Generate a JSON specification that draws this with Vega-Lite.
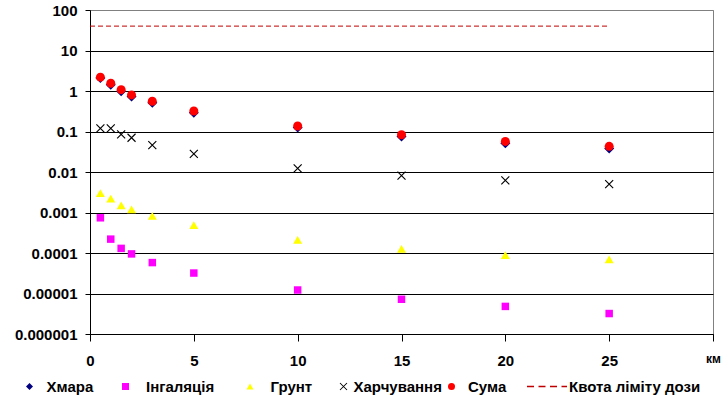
{
  "$schema": "https://vega.github.io/schema/vega-lite/v6.json",
  "width": 623,
  "height": 324,
  "autosize": {"type": "none"},
  "padding": {"left": 90, "top": 10, "right": 15, "bottom": 61},
  "background": "white",
  "config": {
    "view": {"stroke": "#808080", "strokeWidth": 1},
    "font": "Liberation Sans",
    "legend": {
      "orient": "none",
      "title": null,
      "padding": 0,
      "symbolSize": 49,
      "symbolStrokeWidth": 1.5,
      "labelFontSize": 15,
      "labelFontWeight": "bold",
      "labelColor": "#000000",
      "labelLimit": 300,
      "legendY": 369
    }
  },
  "datasets": {
    "points": [
      {"km": 0.5, "series": "Хмара", "value": 2.08},
      {"km": 1, "series": "Хмара", "value": 1.43},
      {"km": 1.5, "series": "Хмара", "value": 0.99},
      {"km": 2, "series": "Хмара", "value": 0.73},
      {"km": 3, "series": "Хмара", "value": 0.51},
      {"km": 5, "series": "Хмара", "value": 0.29},
      {"km": 10, "series": "Хмара", "value": 0.125},
      {"km": 15, "series": "Хмара", "value": 0.075},
      {"km": 20, "series": "Хмара", "value": 0.051},
      {"km": 25, "series": "Хмара", "value": 0.038},
      {"km": 0.5, "series": "Інгаляція", "value": 0.00074},
      {"km": 1, "series": "Інгаляція", "value": 0.00022},
      {"km": 1.5, "series": "Інгаляція", "value": 0.00013},
      {"km": 2, "series": "Інгаляція", "value": 0.000095},
      {"km": 3, "series": "Інгаляція", "value": 0.000058},
      {"km": 5, "series": "Інгаляція", "value": 0.000032},
      {"km": 10, "series": "Інгаляція", "value": 0.0000122},
      {"km": 15, "series": "Інгаляція", "value": 0.0000072},
      {"km": 20, "series": "Інгаляція", "value": 0.0000048},
      {"km": 25, "series": "Інгаляція", "value": 0.0000032},
      {"km": 0.5, "series": "Грунт", "value": 0.003},
      {"km": 1, "series": "Грунт", "value": 0.0022},
      {"km": 1.5, "series": "Грунт", "value": 0.0015},
      {"km": 2, "series": "Грунт", "value": 0.0012},
      {"km": 3, "series": "Грунт", "value": 0.00083},
      {"km": 5, "series": "Грунт", "value": 0.00049},
      {"km": 10, "series": "Грунт", "value": 0.00021},
      {"km": 15, "series": "Грунт", "value": 0.000126},
      {"km": 20, "series": "Грунт", "value": 0.000089},
      {"km": 25, "series": "Грунт", "value": 0.00007},
      {"km": 0.5, "series": "Харчування", "value": 0.12},
      {"km": 1, "series": "Харчування", "value": 0.12},
      {"km": 1.5, "series": "Харчування", "value": 0.085},
      {"km": 2, "series": "Харчування", "value": 0.07},
      {"km": 3, "series": "Харчування", "value": 0.046},
      {"km": 5, "series": "Харчування", "value": 0.028},
      {"km": 10, "series": "Харчування", "value": 0.0123},
      {"km": 15, "series": "Харчування", "value": 0.0081},
      {"km": 20, "series": "Харчування", "value": 0.0062},
      {"km": 25, "series": "Харчування", "value": 0.005},
      {"km": 0.5, "series": "Сума", "value": 2.2},
      {"km": 1, "series": "Сума", "value": 1.55},
      {"km": 1.5, "series": "Сума", "value": 1.08},
      {"km": 2, "series": "Сума", "value": 0.8},
      {"km": 3, "series": "Сума", "value": 0.56},
      {"km": 5, "series": "Сума", "value": 0.32},
      {"km": 10, "series": "Сума", "value": 0.137},
      {"km": 15, "series": "Сума", "value": 0.083},
      {"km": 20, "series": "Сума", "value": 0.057},
      {"km": 25, "series": "Сума", "value": 0.043}
    ],
    "quota": [
      {"km": 0, "series": "Квота ліміту дози", "value": 40},
      {"km": 25, "series": "Квота ліміту дози", "value": 40}
    ]
  },
  "encoding": {
    "x": {
      "field": "km",
      "type": "quantitative",
      "scale": {"domain": [0, 30], "nice": false, "zero": false},
      "axis": {
        "title": null,
        "values": [0, 5, 10, 15, 20, 25, 30],
        "grid": false,
        "labelExpr": "datum.value == 30 ? 'км' : datum.label",
        "labelFontSize": {"condition": {"test": "datum.value == 30", "value": 12}, "value": 15},
        "labelFontWeight": "bold",
        "labelColor": "#000000",
        "labelFlush": false,
        "labelOverlap": false,
        "tickSize": 7,
        "labelPadding": 12,
        "domainColor": "#000000",
        "tickColor": "#000000"
      }
    },
    "y": {
      "field": "value",
      "type": "quantitative",
      "scale": {"type": "log", "domain": [0.000001, 100], "nice": false},
      "axis": {
        "title": null,
        "values": [0.000001, 0.00001, 0.0001, 0.001, 0.01, 0.1, 1, 10, 100],
        "labelExpr": "format(datum.value, '~f')",
        "grid": true,
        "gridColor": {"condition": {"test": "datum.value >= 100", "value": "#808080"}, "value": "#000000"},
        "gridOpacity": 1,
        "gridWidth": 1,
        "labelFontSize": 15,
        "labelFontWeight": "bold",
        "labelColor": "#000000",
        "labelOverlap": false,
        "labelPadding": 8,
        "tickSize": 5,
        "domainColor": "#000000",
        "tickColor": "#000000"
      }
    }
  },
  "layer": [
    {
      "data": {"name": "quota"},
      "mark": {"type": "line", "strokeDash": [5, 3], "strokeWidth": 1},
      "encoding": {
        "color": {
          "field": "series", "type": "nominal",
          "scale": {"range": ["#c00000"]},
          "legend": {"legendX": 436, "legendY": 355.5, "symbolType": "stroke", "symbolSize": 1600, "symbolDash": [7, 4.5], "symbolStrokeWidth": 1.5, "symbolStrokeColor": "#c00000", "labelOffset": 1}
        }
      }
    },
    {
      "data": {"name": "points"},
      "transform": [{"filter": "datum.series == 'Хмара'"}],
      "mark": {"type": "point", "filled": true, "opacity": 1, "shape": "diamond", "size": 100},
      "encoding": {
        "color": {
          "field": "series", "type": "nominal",
          "scale": {"range": ["#000080"]},
          "legend": {"legendX": -68, "symbolType": "diamond", "labelOffset": 9.5}
        }
      }
    },
    {
      "data": {"name": "points"},
      "transform": [{"filter": "datum.series == 'Інгаляція'"}],
      "mark": {"type": "point", "filled": true, "opacity": 1, "shape": "square", "size": 56},
      "encoding": {
        "color": {
          "field": "series", "type": "nominal",
          "scale": {"range": ["#ff00ff"]},
          "legend": {"legendX": 28, "symbolType": "square", "labelOffset": 13}
        }
      }
    },
    {
      "data": {"name": "points"},
      "transform": [{"filter": "datum.series == 'Грунт'"}],
      "mark": {"type": "point", "filled": true, "opacity": 1, "shape": "triangle-up", "size": 81},
      "encoding": {
        "color": {
          "field": "series", "type": "nominal",
          "scale": {"range": ["#ffff00"]},
          "legend": {"legendX": 152.5, "symbolType": "triangle-up", "labelOffset": 13}
        }
      }
    },
    {
      "data": {"name": "points"},
      "transform": [{"filter": "datum.series == 'Харчування'"}],
      "mark": {"type": "point", "filled": true, "opacity": 1, "shape": "M-0.9,-1.1L1.1,0.9L0.9,1.1L-1.1,-0.9Z M0.9,-1.1L1.1,-0.9L-0.9,1.1L-1.1,0.9Z", "size": 64},
      "encoding": {
        "color": {
          "field": "series", "type": "nominal",
          "scale": {"range": ["#000000"]},
          "legend": {"legendX": 246, "symbolType": "M-0.9,-1.1L1.1,0.9L0.9,1.1L-1.1,-0.9Z M0.9,-1.1L1.1,-0.9L-0.9,1.1L-1.1,0.9Z", "labelOffset": 2.5}
        }
      }
    },
    {
      "data": {"name": "points"},
      "transform": [{"filter": "datum.series == 'Сума'"}],
      "mark": {"type": "point", "filled": true, "opacity": 1, "shape": "circle", "size": 81},
      "encoding": {
        "color": {
          "field": "series", "type": "nominal",
          "scale": {"range": ["#ff0000"]},
          "legend": {"legendX": 354, "symbolType": "circle", "labelOffset": 9}
        }
      }
    }
  ],
  "resolve": {"scale": {"color": "independent"}, "legend": {"color": "independent"}}
}
